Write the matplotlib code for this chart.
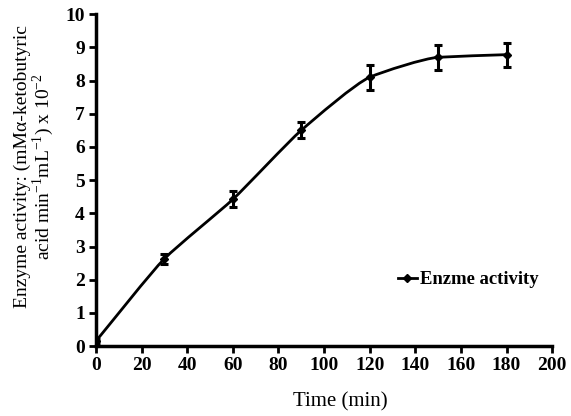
import numpy as np
import matplotlib
matplotlib.use("Agg")
import matplotlib.pyplot as plt
from matplotlib.path import Path
from matplotlib.patches import PathPatch
from matplotlib.lines import Line2D

time_min = [0, 30, 60, 90, 120, 150, 180]
activity = [0.15, 2.63, 4.42, 6.5, 8.1, 8.7, 8.78]
errors = [0.05, 0.15, 0.24, 0.24, 0.37, 0.38, 0.36]
x_ticks = [0, 20, 40, 60, 80, 100, 120, 140, 160, 180, 200]
y_ticks = [0, 1, 2, 3, 4, 5, 6, 7, 8, 9, 10]

plt.rcParams['font.family'] = ['Liberation Serif', 'DejaVu Serif']
plt.rcParams['mathtext.fontset'] = 'custom'
plt.rcParams['mathtext.rm'] = 'Liberation Serif'

fig = plt.figure(figsize=(5.71, 4.16), dpi=100)
ax = fig.add_axes([0.168, 0.168, 0.799, 0.798])

# smoothed curve through the points (PCHIP tangents, cubic Bezier, reduced tension)
xs = np.array(time_min, float)
ys = np.array(activity, float)
h = np.diff(xs)
d = np.diff(ys) / h
m = np.zeros_like(ys)
m[0], m[-1] = d[0], d[-1]
for i in range(1, len(xs) - 1):
    if d[i - 1] * d[i] > 0:
        m[i] = 2 * d[i - 1] * d[i] / (d[i - 1] + d[i])
k = 0.2
verts = [(xs[0], ys[0])]
codes = [Path.MOVETO]
for i in range(len(xs) - 1):
    c1 = (xs[i] + h[i] * k, ys[i] + m[i] * h[i] * k)
    c2 = (xs[i + 1] - h[i] * k, ys[i + 1] - m[i + 1] * h[i] * k)
    verts += [c1, c2, (xs[i + 1], ys[i + 1])]
    codes += [Path.CURVE4] * 3
ax.add_patch(PathPatch(Path(verts, codes), fill=False, lw=2.0, color='black'))

ax.errorbar(time_min, activity, yerr=errors, fmt='D', color='black', ms=4.5,
            ecolor='black', elinewidth=2.2, capsize=3.2, capthick=2.2)

handle = Line2D([], [], color='black', lw=2, marker='D', ms=4.5)
ax.legend([handle], ['Enzme activity'], loc='center left', bbox_to_anchor=(0.645, 0.2),
          frameon=False, handlelength=1.05, handletextpad=0.15, borderaxespad=0,
          prop={'family': 'Liberation Serif', 'weight': 'bold', 'size': 13.4})

ax.set_xlim(0, 200)
ax.set_ylim(0, 10)
ax.set_xticks(x_ticks)
ax.set_yticks(y_ticks)
ax.set_xticklabels([str(v) for v in x_ticks], fontweight='bold', fontsize=14)
ax.set_yticklabels([str(v) for v in y_ticks], fontweight='bold', fontsize=14)
for s in ['top', 'right']:
    ax.spines[s].set_visible(False)
for s in ['left', 'bottom']:
    ax.spines[s].set_linewidth(2.5)
ax.tick_params(direction='out', length=5, width=2, pad=3)

ax.set_xlabel('Time (min)', fontsize=15, va='center')
ax.xaxis.set_label_coords(0.536, -0.168)
ax.set_ylabel('Enzyme activity: (mM\u03b1-ketobutyric\nacid min$^{-1}$mL$^{-1}$) x 10$^{-2}$',
              fontsize=14, linespacing=1.0, va='center')
ax.yaxis.set_label_coords(-0.134, 0.542)

fig.savefig('out.png', dpi=100)
